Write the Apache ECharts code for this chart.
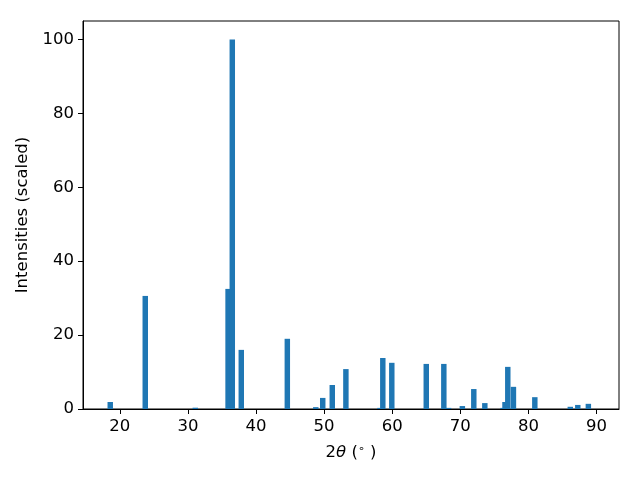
<!DOCTYPE html>
<html>
<head>
<meta charset="utf-8">
<script src="https://cdn.jsdelivr.net/npm/echarts@6/dist/echarts.min.js"></script>
<style>html,body{margin:0;padding:0;background:#fff;}#c{width:640px;height:480px;}</style>
</head>
<body>
<div id="c"></div>
<script>
const positions = [18.6, 23.74, 31.09, 35.9, 36.52, 37.84, 44.6, 48.78, 49.8, 51.2, 53.2, 58.2, 58.62, 59.94, 65.0, 67.58, 68.28, 70.3, 71.98, 73.6, 76.27, 76.56, 76.97, 77.8, 80.94, 86.15, 87.25, 88.8];
const intensities = [1.9, 30.6, 0.35, 32.5, 100, 16.0, 19.0, 0.5, 3.0, 6.5, 10.8, 0.3, 13.8, 12.5, 12.2, 12.2, 0.3, 0.8, 5.4, 1.6, 0.3, 1.9, 11.4, 6.0, 3.2, 0.6, 1.1, 1.4];
const xTicks = [20, 30, 40, 50, 60, 70, 80, 90];
const yTicks = [0, 20, 40, 60, 80, 100];
const barWidthDeg = 0.8;

const data = positions.map((p, i) => [p, intensities[i]]);
const font = 'DejaVu Sans';
const fs = 16.5;
const chart = echarts.init(document.getElementById('c'), null, {renderer: 'canvas'});
chart.setOption({
  animation: false,
  backgroundColor: '#fff',
  grid: {left: 83, right: 21, top: 21, bottom: 71, show: true, borderColor: '#000', borderWidth: 1, backgroundColor: 'transparent'},
  xAxis: {
    type: 'value', min: 14.6, max: 93.3,
    name: '{n|2}{i|θ}{n| (}{s|∘}{n| )}',
    nameLocation: 'middle', nameGap: 35,
    nameTextStyle: {
      rich: {
        n: {fontFamily: font, fontSize: fs, color: '#000'},
        i: {fontFamily: font, fontSize: fs, fontStyle: 'italic', color: '#000'},
        s: {fontFamily: font, fontSize: 11, color: '#000', verticalAlign: 'top', padding: [0, 0, 7, 0]}
      }
    },
    splitLine: {show: false},
    axisLine: {show: true, onZero: false, lineStyle: {color: '#000', width: 1}},
    axisTick: {show: true, length: 5, customValues: xTicks, lineStyle: {color: '#000'}},
    axisLabel: {customValues: xTicks, margin: 9, fontFamily: font, fontSize: fs, color: '#000'}
  },
  yAxis: {
    type: 'value', min: 0, max: 105,
    name: 'Intensities (scaled)', nameLocation: 'middle', nameGap: 47,
    nameTextStyle: {fontFamily: font, fontSize: fs, color: '#000'},
    splitLine: {show: false},
    axisLine: {show: true, lineStyle: {color: '#000', width: 1}},
    axisTick: {show: true, length: 5, customValues: yTicks, lineStyle: {color: '#000'}},
    axisLabel: {customValues: yTicks, margin: 9, fontFamily: font, fontSize: fs, color: '#000'}
  },
  series: [{
    type: 'custom',
    data: data,
    encode: {x: 0, y: 1},
    renderItem: function (params, api) {
      const x = api.value(0), y = api.value(1);
      const p0 = api.coord([x - barWidthDeg / 2, y]);
      const p1 = api.coord([x + barWidthDeg / 2, 0]);
      return {
        type: 'rect',
        shape: {x: p0[0], y: p0[1], width: p1[0] - p0[0], height: p1[1] - p0[1]},
        style: {fill: '#1f77b4'}
      };
    }
  }]
});
</script>
</body>
</html>
